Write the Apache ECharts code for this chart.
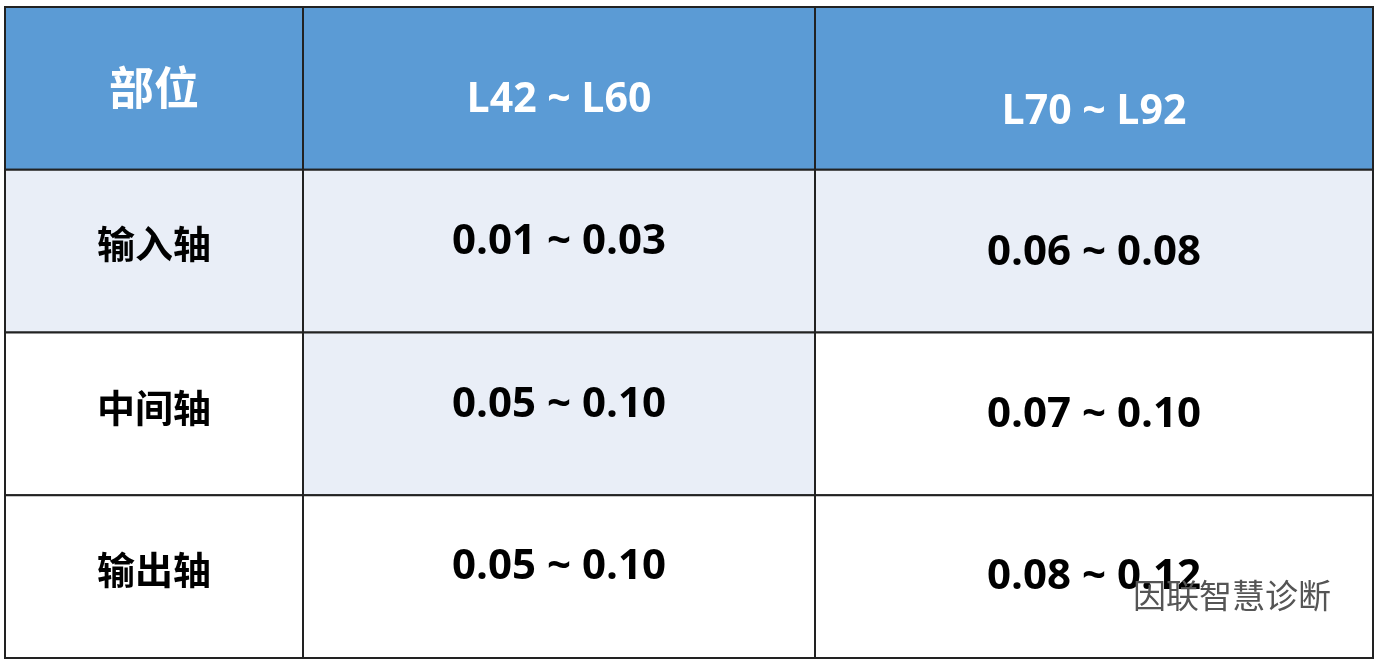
<!DOCTYPE html>
<html><head><meta charset="utf-8">
<script src="https://cdn.jsdelivr.net/npm/echarts@6/dist/echarts.min.js"></script>
<style>html,body{margin:0;padding:0;background:#fff}#c{width:1380px;height:664px}</style>
</head><body><div id="c"></div>
<script>
var headers = ['部位', 'L42 ~ L60', 'L70 ~ L92'];
var parts = ['输入轴', '中间轴', '输出轴'];
var rangeL42L60 = ['0.01 ~ 0.03', '0.05 ~ 0.10', '0.05 ~ 0.10'];
var rangeL70L92 = ['0.06 ~ 0.08', '0.07 ~ 0.10', '0.08 ~ 0.12'];

var colEdges = [0, 298, 810, 1368];
var HEAD = '#5b9bd5', LIGHT = '#e9eef7', WHITE = '#ffffff';
var shaded = {'1-0':1,'1-1':1,'1-2':1,'2-1':1};
var dyMap = {0:[0,12,24], 1:[-8,-9,2], 2:[-6,-9,1], 3:[-7,-10,0]};

var cells = [];
headers.forEach(function(t,c){ cells.push([0,c,t]); });
for (var r=0;r<parts.length;r++){
  cells.push([r+1,0,parts[r]]);
  cells.push([r+1,1,rangeL42L60[r]]);
  cells.push([r+1,2,rangeL70L92[r]]);
}

var chart = echarts.init(document.getElementById('c'));
chart.setOption({
  animation:false,
  grid:{left:5,top:7,width:1368,height:651},
  xAxis:{type:'value',min:0,max:1368,show:false},
  yAxis:{type:'value',min:0,max:4,inverse:true,show:false},
  series:[{
    type:'custom',
    data:cells,
    renderItem:function(params, api){
      var r = api.value(0), c = api.value(1);
      var text = cells[params.dataIndex][2];
      var p0 = api.coord([colEdges[c], r]);
      var p1 = api.coord([colEdges[c+1], r+1]);
      var fill = r===0 ? HEAD : (shaded[r+'-'+c] ? LIGHT : WHITE);
      var font;
      if (c===0) font = 'bold ' + (r===0 ? '45px' : '38px') + ' "Noto Sans CJK SC"';
      else font = 'bold ' + (r===0 ? '41px' : '42px') + ' "Open Sans", "Noto Sans CJK SC"';
      return {type:'group', children:[
        {type:'rect', shape:{x:p0[0],y:p0[1],width:p1[0]-p0[0],height:p1[1]-p0[1]},
         style:{fill:fill, stroke:'#222', lineWidth:2}},
        {type:'text', style:{
          x:(p0[0]+p1[0])/2, y:(p0[1]+p1[1])/2 + dyMap[r][c], text:text,
          align:'center', verticalAlign:'middle',
          fill: r===0 ? '#fff' : '#000', font: font
        }}
      ]};
    }
  }],
  graphic:[{type:'text', left:1133, top:579, z:100,
    style:{text:'因联智慧诊断', fill:'#555', font:'33px "Noto Sans CJK SC"'}}]
});
</script></body></html>
